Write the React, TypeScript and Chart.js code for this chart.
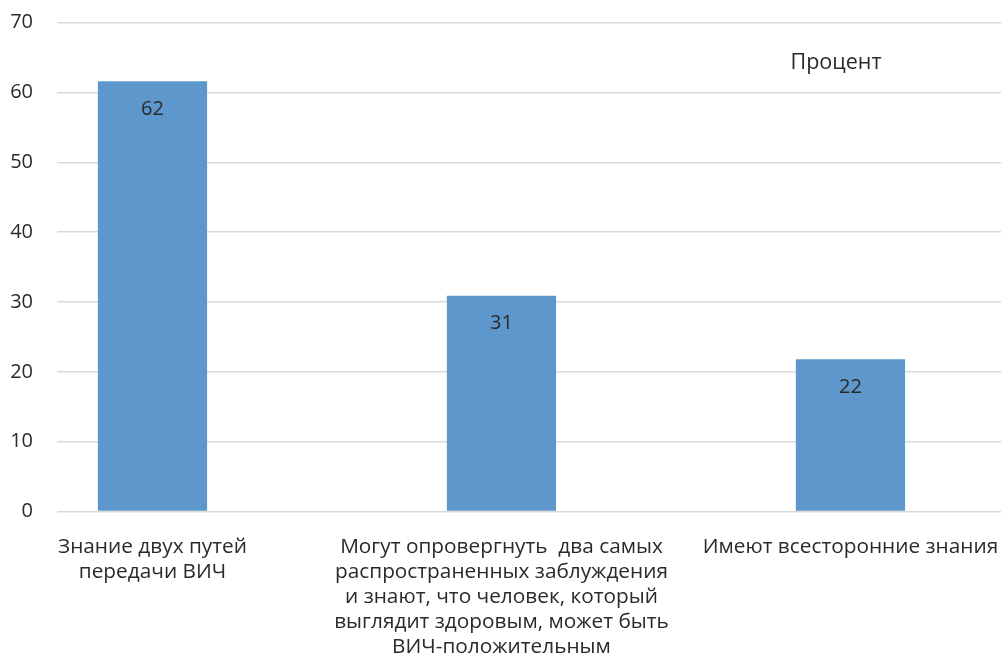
import React, { useEffect, useRef } from "react";
import { Chart, registerables } from "chart.js";

Chart.register(...registerables);

// ---- Data ----
const categories: string[][] = [
  ["Знание двух путей", "передачи ВИЧ"],
  [
    "Могут опровергнуть  два самых",
    "распространенных заблуждения",
    "и знают, что человек, который",
    "выглядит здоровым, может быть",
    "ВИЧ-положительным",
  ],
  ["Имеют всесторонние знания"],
];
const seriesLabel = "Процент";
const values: number[] = [61.6, 30.9, 21.8];
const yMin = 0;
const yMax = 70;
const yStep = 10;

// ---- Style / layout ----
const W = 1001;
const H = 669;
const FONT = '"Open Sans", "Noto Sans", sans-serif';
const FONT_SIZE = 20;
const LABEL_SIZE = 20.8;
const TEXT = "#2a2a2a";
const BAR = "#5e97cb";
const GRID = "#d9d9d9";
const X_MIN = -0.2736;
const X_MAX = 2.4314;

const valueLabelPlugin = {
  id: "valueLabels",
  afterDatasetsDraw(chart: any) {
    const ctx = chart.ctx;
    const meta = chart.getDatasetMeta(0);
    ctx.save();
    ctx.font = `${FONT_SIZE}px ${FONT}`;
    ctx.fillStyle = TEXT;
    ctx.textAlign = "center";
    ctx.textBaseline = "middle";
    meta.data.forEach((bar: any, i: number) => {
      ctx.fillText(String(Math.round(values[i])), bar.x, bar.y + 28);
    });
    ctx.font = `21.5px ${FONT}`;
    ctx.fillText(chart.data.datasets[0].label, chart.chartArea.right - 165, 63);
    ctx.restore();
  },
};

export default function App() {
  const ref = useRef<HTMLCanvasElement | null>(null);

  useEffect(() => {
    if (!ref.current) return;
    const chart = new Chart(ref.current, {
      type: "bar",
      data: {
        datasets: [
          {
            label: seriesLabel,
            data: values.map((v, i) => ({ x: i, y: v })),
            backgroundColor: BAR,
            borderWidth: 0,
            barPercentage: 0.313,
            categoryPercentage: 1,
          },
        ],
      },
      options: {
        responsive: false,
        animation: false,
        layout: { padding: { top: 22.7, right: 0, left: 0, bottom: 0 } },
        plugins: {
          legend: { display: false },
          tooltip: { enabled: false },
        },
        scales: {
          x: {
            type: "linear",
            min: X_MIN,
            max: X_MAX,
            offset: false,
            bounds: "data",
            grid: { display: false, offset: false },
            border: { display: false },
            afterBuildTicks: (scale: any) => {
              scale.ticks = categories.map((_, i) => ({ value: i }));
            },
            afterFit: (scale: any) => {
              scale.height = H - 511.5;
              scale.paddingLeft = 0;
              scale.paddingRight = 0;
            },
            ticks: {
              autoSkip: false,
              maxRotation: 0,
              minRotation: 0,
              padding: 15,
              color: TEXT,
              font: { family: FONT, size: LABEL_SIZE, lineHeight: 1.2 },
              callback: (value: any) => categories[Math.round(Number(value))] as any,
            },
          },
          y: {
            min: yMin,
            max: yMax,
            border: { display: false },
            grid: { color: GRID, lineWidth: 1.5, drawTicks: false },
            afterFit: (scale: any) => {
              scale.width = 57;
              scale.paddingTop = 0;
              scale.paddingBottom = 0;
            },
            ticks: {
              stepSize: yStep,
              padding: 24,
              color: TEXT,
              font: { family: FONT, size: FONT_SIZE },
            },
          },
        },
      },
      plugins: [valueLabelPlugin],
    } as any);
    return () => chart.destroy();
  }, []);

  return (
    <div style={{ position: "absolute", left: 0, top: 0, width: W, height: H, background: "#fff" }}>
      <canvas ref={ref} width={W} height={H} style={{ display: "block" }} />
    </div>
  );
}
